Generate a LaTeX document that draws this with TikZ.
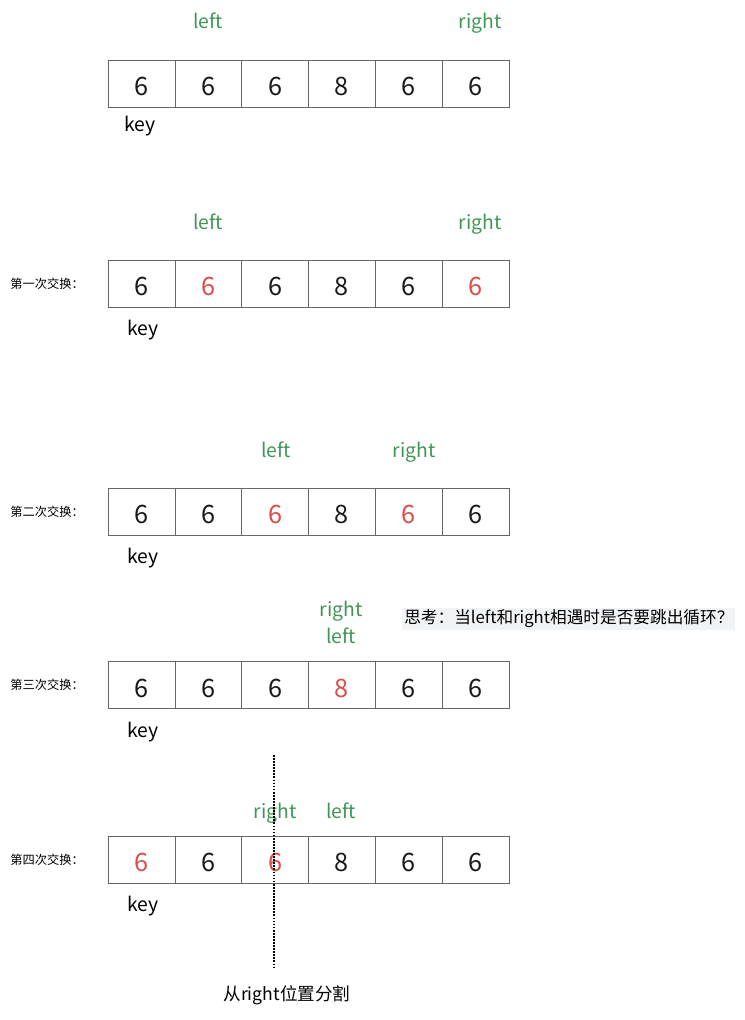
\documentclass[tikz,border=0pt]{standalone}
\usepackage{fontspec}
\setmainfont{Noto Sans CJK SC}
\definecolor{ptrgreen}{RGB}{64,150,84}
\definecolor{numr}{RGB}{218,78,72}
\definecolor{numk}{RGB}{25,25,25}
\definecolor{notebg}{RGB}{242,243,245}
\begin{document}
\begin{tikzpicture}[x=0.75pt, y=-0.75pt,
  cell/.style={rectangle, draw=black!60, minimum width=50.1pt, minimum height=35.25pt, inner sep=0pt, text height=18.4pt, text depth=0pt, font=\fontsize{19}{22}\selectfont},
  ptr/.style={text=ptrgreen, anchor=base, font=\fontsize{14.5}{17}\selectfont},
  keylbl/.style={anchor=base, font=\fontsize{14.5}{17}\selectfont},
  steplbl/.style={anchor=west, inner sep=0pt, font=\fontsize{9.2}{11}\selectfont},
  note/.style={fill=notebg, inner sep=1.5pt, anchor=west, font=\fontsize{12.5}{15}\selectfont},
  ]
 \useasboundingbox (0,0) rectangle (745,1020);
 % the five states of the array
 \foreach \r/\yy/\cells in {1/83.5/{6/k,6/k,6/k,8/k,6/k,6/k},
                            2/283.5/{6/k,6/r,6/k,8/k,6/k,6/r},
                            3/511.5/{6/k,6/k,6/r,8/k,6/r,6/k},
                            4/685/{6/k,6/k,6/k,8/r,6/k,6/k},
                            5/859.5/{6/r,6/k,6/r,8/k,6/k,6/k}}
   \foreach \v/\c [count=\i] in \cells
     \node [cell, text=num\c] (a\r-\i) at (74.7+66.8*\i, \yy) {\v};
 \node [keylbl] (key1) at (140,132) {key};
 \foreach \r/\yy in {2/283.5, 3/511.5, 4/685, 5/859.5}
   \node [keylbl] (key\r) at (143, \yy+52) {key};
 \node [steplbl] (step2) at (10,283.5) {第一次交换：};
 \node [steplbl] (step3) at (10,511.5) {第二次交换：};
 \node [steplbl] (step4) at (10,685) {第三次交换：};
 \node [steplbl] (step5) at (10,859.5) {第四次交换：};
 % left / right pointers
 \node [ptr] (lft1) at (208,29) {left};
 \node [ptr] (rgt1) at (480,29) {right};
 \node [ptr] (lft2) at (208,229) {left};
 \node [ptr] (rgt2) at (480,229) {right};
 \node [ptr] (lft3) at (276,457) {left};
 \node [ptr] (rgt3) at (414,457) {right};
 \node [ptr] (rgt4) at (341,616) {right};
 \node [ptr] (lft4) at (341,643) {left};
 \node [ptr] (rgt5) at (275,818) {right};
 \node [ptr] (lft5) at (341,818) {left};
 \node [note] (think) at (402,619) {思考：当left和right相遇时是否要跳出循环？};
 % split line
 \coordinate (cuttop) at (274,755);
 \coordinate (cutbot) at (274,967);
 \draw [densely dotted, line width=1.3pt] (cuttop) -- (cutbot);
 \node (split) at (287,995) {\fontsize{13.2}{16}\selectfont 从right位置分割};
\end{tikzpicture}
\end{document}
